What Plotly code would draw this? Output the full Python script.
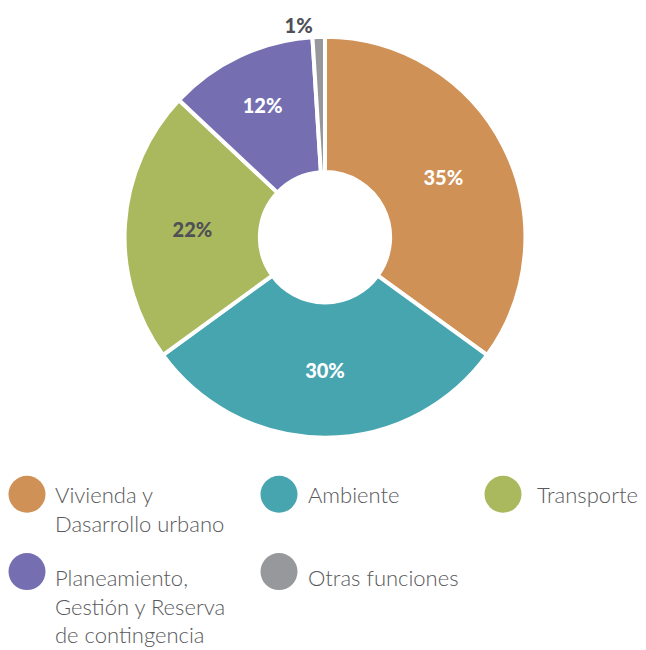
import plotly.graph_objects as go

categories = ["Vivienda y<br>Dasarrollo urbano", "Ambiente", "Transporte",
              "Planeamiento,<br>Gestión y Reserva<br>de contingencia", "Otras funciones"]
values = [35, 30, 22, 12, 1]
colors = ["#CF9155", "#47A5AF", "#AAB95D", "#756FB2", "#97989B"]
label_colors = ["#FFFFFF", "#FFFFFF", "#4F5056", "#FFFFFF", "#4F5056"]
text_positions = ["inside", "inside", "inside", "inside", "outside"]

# page body adds an 8px margin, so the figure is sized to the visible area
OFF = 8
W, H = 646 - OFF, 650 - OFF

fig = go.Figure()
fig.add_trace(go.Pie(
    values=values,
    labels=[c.replace("<br>", " ") for c in categories],
    marker=dict(colors=colors, line=dict(color="white", width=4)),
    hole=0.325,
    sort=False,
    direction="clockwise",
    rotation=0,
    texttemplate="%{value}%",
    textposition=text_positions,
    insidetextorientation="horizontal",
    textfont=dict(family="Lato", size=20, color=label_colors, weight=900),
    outsidetextfont=dict(family="Lato", size=20, color="#4F5056", weight=900),
    domain=dict(x=[(123 - OFF) / W, (527 - OFF) / W],
                y=[1 - (436 - OFF) / H, 1 - (32 - OFF) / H]),
    showlegend=False,
    hoverinfo="label+percent",
))

# legend layout (pixel positions in the page: circle centre, text left, text top)
leg_cx = [27, 279, 503, 27, 279]
leg_cy = [493, 493, 493, 571, 571]
leg_tx = [53, 306, 535, 53, 306]
leg_ty = [478, 478, 478, 561, 561]

fig.add_trace(go.Scatter(
    x=[v - OFF for v in leg_cx], y=[v - OFF for v in leg_cy], mode="markers",
    marker=dict(size=37, color=colors, line=dict(width=0)),
    xaxis="x", yaxis="y", showlegend=False, hoverinfo="skip",
))

for cat, tx, ty in zip(categories, leg_tx, leg_ty):
    fig.add_annotation(
        x=tx - OFF, y=ty - OFF, xref="x", yref="y", text=cat, showarrow=False,
        xanchor="left", yanchor="top", align="left",
        font=dict(family="Lato", size=22, color="#58595B", weight=300),
    )

fig.update_layout(
    width=W, height=H,
    margin=dict(l=0, r=0, t=0, b=0),
    paper_bgcolor="white", plot_bgcolor="rgba(0,0,0,0)",
    xaxis=dict(range=[0, W], visible=False, fixedrange=True),
    yaxis=dict(range=[H, 0], visible=False, fixedrange=True),
)

fig.write_html("out.html")
